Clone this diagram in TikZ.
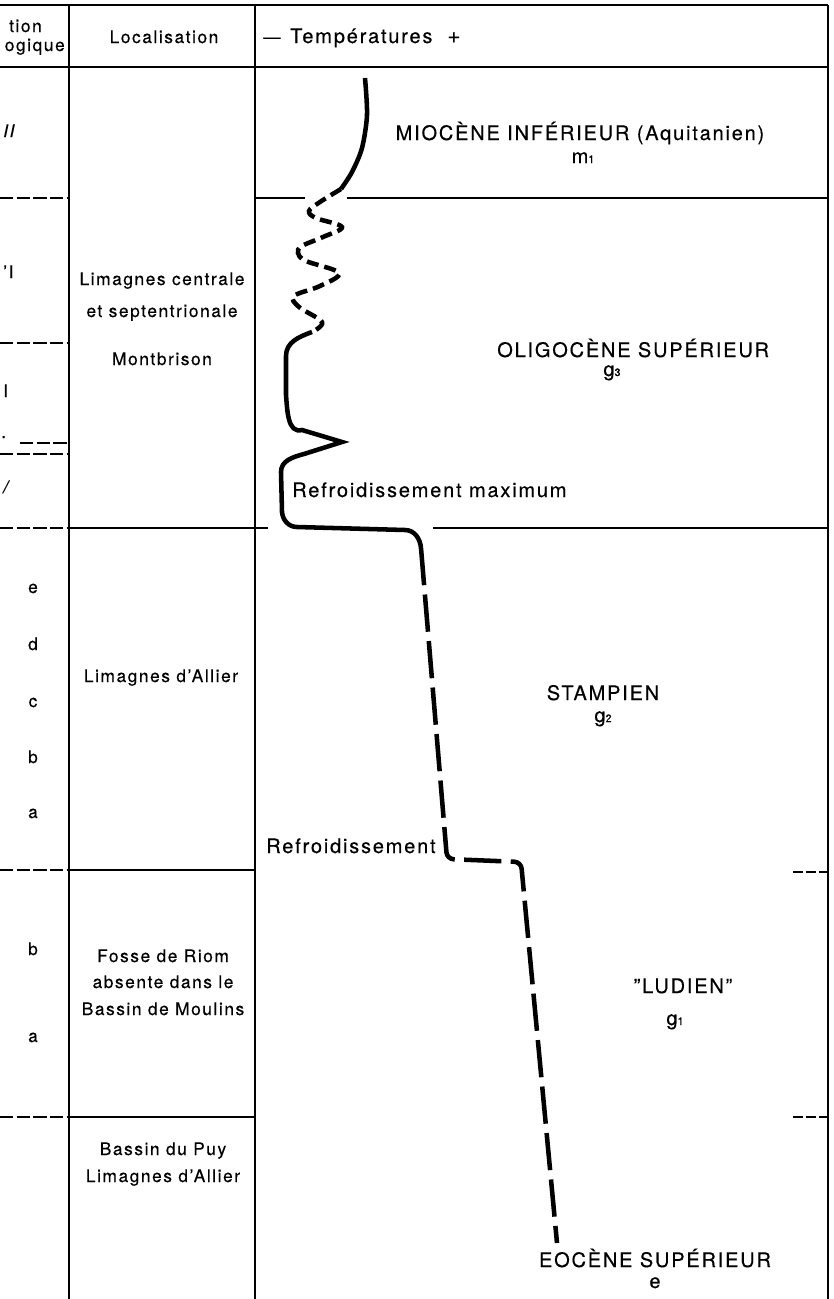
\documentclass[tikz,border=0pt]{standalone}
\usepackage{fontspec}
\setmainfont{TeX Gyre Heros}[LetterSpace=9, FakeBold=0.4]
\usepackage{tikz}

\newcommand{\stagesub}[1]{{\fontsize{8}{8}\selectfont #1}}

\tikzset{
  rule/.style={line width=0.8pt},
  dashrule/.style={rule, dash pattern=on 10pt off 2.5pt},
  ticktext/.style={inner sep=0pt, font=\fontsize{13}{15}\selectfont},
  stagetext/.style={inner sep=0pt, font=\fontsize{15}{17}\selectfont},
  curve/.style={line width=3.4pt},
  shortdash/.style={curve, dash pattern=on 9pt off 4.5pt},
  longdash/.style={curve, dash pattern=on 28pt off 7pt}
}

\begin{document}
\begin{tikzpicture}[x=0.75pt, y=-0.75pt]
    \useasboundingbox (0,0) rectangle (833,1299);

    % Draw table frame
    \draw[rule] (0,5) -- (828,5);
    \draw[rule] (0,67) -- (828,67);
    \draw[rule] (69,5) -- (69,1299);
    \draw[rule] (255,5) -- (255,1299);
    \draw[rule] (828,5) -- (828,1299);

    % Draw stage limits
    \draw[rule] (255,198) -- (305,198);
    \draw[rule] (347,198) -- (828,198);
    \draw[rule] (69,528) -- (268,528);
    \draw[rule] (433,528) -- (828,528);
    \draw[rule] (69,870) -- (255,870);
    \draw[rule] (69,1117) -- (255,1117);
    \foreach \y in {198,343,454,528,870,1117}
        \draw[dashrule] (0,\y) -- (69,\y);
    \draw[dashrule] (20,443) -- (69,443);
    \foreach \y in {872,1117}
        \draw[dashrule, dash pattern=on 7.5pt off 2.2pt] (793,\y) -- (828,\y);

    % Header
    \node[ticktext, anchor=base east] (poshead1) at (42,32) {tion};
    \node[ticktext, anchor=base east] (poshead2) at (65,51) {ogique};
    \node[ticktext, anchor=base] (lochead) at (164,43) {Localisation};
    \node[inner sep=0pt, font=\fontsize{13}{15}\selectfont, anchor=base west] (tempminus) at (263,43) {—};
    \node[stagetext, anchor=base west] (temphead) at (290,43) {Températures};
    \node[inner sep=0pt, font=\fontsize{17}{19}\selectfont, anchor=base west] (tempplus) at (447,43) {+};

    % Stratigraphic marks
    \node[ticktext, anchor=base west] (mark1) at (3,137) {\itshape II};
    \node[ticktext, anchor=base west] (mark2) at (3,278) {'I};
    \node[ticktext, anchor=base west] (mark3) at (3,397) {I};
    \node[ticktext, anchor=base west] (mark4) at (1,438) {.};
    \node[ticktext, anchor=base west] (mark5) at (3,493) {\itshape /};
    \foreach \l/\y in {e/593, d/650, c/707, b/763, a/818}
        \node[ticktext, anchor=base] (up-\l) at (33,\y) {\l};
    \foreach \l/\y in {b/955, a/1042}
        \node[ticktext, anchor=base] (low-\l) at (33,\y) {\l};

    % Localisation
    \node[ticktext, anchor=base] (loc1a) at (162,285) {Limagnes centrale};
    \node[ticktext, anchor=base] (loc1b) at (162,317) {et septentrionale};
    \node[ticktext, anchor=base] (loc1c) at (162,365) {Montbrison};
    \node[ticktext, anchor=base] (loc2) at (161,682) {Limagnes d’Allier};
    \node[ticktext, anchor=base] (loc3a) at (163,962) {Fosse de Riom};
    \node[ticktext, anchor=base] (loc3b) at (163,988) {absente dans le};
    \node[ticktext, anchor=base] (loc3c) at (163,1015) {Bassin de Moulins};
    \node[ticktext, anchor=base] (loc4a) at (163,1155) {Bassin du Puy};
    \node[ticktext, anchor=base] (loc4b) at (163,1182) {Limagnes d’Allier};

    % Stages
    \node[stagetext, anchor=base] (mio) at (580,140) {MIOCÈNE INFÉRIEUR (Aquitanien)};
    \node[stagetext, anchor=base] (mio-sym) at (583,163) {m\stagesub{1}};
    \node[stagetext, anchor=base west] (oligo) at (497,357) {OLIGOCÈNE SUPÉRIEUR};
    \node[stagetext, anchor=base] (oligo-sym) at (612,376) {g\stagesub{3}};
    \node[stagetext, anchor=base west] (coolmax) at (292,497) {Refroidissement maximum};
    \node[stagetext, anchor=base] (stamp) at (603,700) {STAMPIEN};
    \node[stagetext, anchor=base] (stamp-sym) at (603,722) {g\stagesub{2}};
    \node[stagetext, anchor=base west] (cool) at (266,853) {Refroidissement};
    \node[stagetext, anchor=base] (lud) at (683,993) {''LUDIEN''};
    \node[stagetext, anchor=base] (lud-sym) at (675,1025) {g\stagesub{1}};
    \node[stagetext, anchor=base] (eoc) at (655,1267) {EOCÈNE SUPÉRIEUR};
    \node[stagetext, anchor=base] (eoc-sym) at (655,1288) {e};

    % Temperature curve
    \draw[curve] plot[smooth] coordinates {(365,78) (367,115) (362,148) (352,172) (341,189)};
    \draw[shortdash] plot[smooth, tension=0.6] coordinates {(341,189) (320,202) (309,211) (316,218) (342,227)
        (323,237) (302,246) (298,253) (306,261) (339,273) (320,286) (294,296) (299,307) (322,322) (312,332)};
    \draw[curve] (312,332) to[out=200, in=90] (286,356) -- (286,395) to[out=-85, in=195] (302,430)
        -- (342,442) -- (304,454) to[out=195, in=90] (281,472) -- (282,512) to[out=-85, in=180] (297,527)
        -- (405,530) to[out=0, in=95] (421,548);
    \draw[longdash, rounded corners=5pt] (421,548) -- (447,859) -- (521,862) -- (557,1243);
\end{tikzpicture}
\end{document}
